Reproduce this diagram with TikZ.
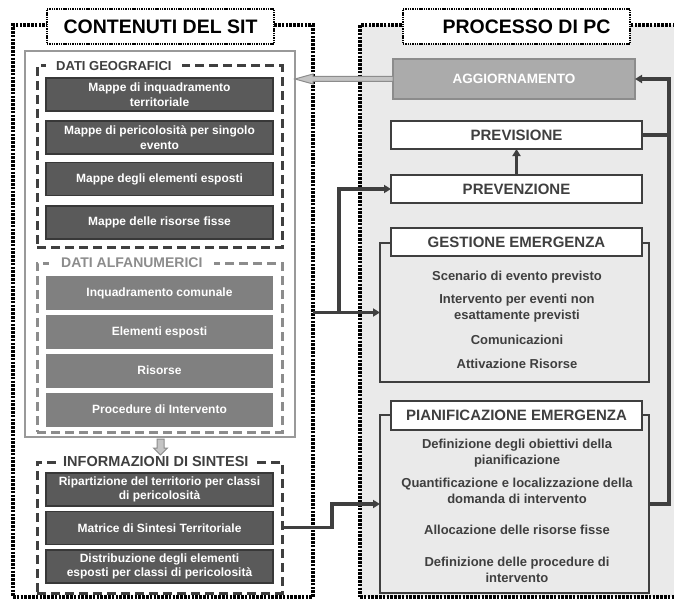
\documentclass[tikz,border=0pt]{standalone}
\usepackage{fontspec}
\setmainfont{Liberation Sans}
\usetikzlibrary{arrows.meta}
\definecolor{inkdark}{HTML}{3F3F3F}
\definecolor{boxdark}{HTML}{5A5A5A}
\definecolor{boxline}{HTML}{383838}
\definecolor{boxmid}{HTML}{808080}
\definecolor{framegray}{HTML}{999999}
\definecolor{alfagray}{HTML}{8C8C8C}
\definecolor{panelbg}{HTML}{EAEAEA}
\definecolor{aggfill}{HTML}{ABABAB}
\definecolor{arrowfill}{HTML}{C4C4C4}

\begin{document}
\begin{tikzpicture}[x=1pt,y=-1pt,
  panel/.style={draw=black,line width=3.6pt,dash pattern=on 2.6pt off 1.2pt,outer sep=0pt,inner sep=0pt},
  titlebox/.style={draw=black,fill=white,line width=1.6pt,dash pattern=on 1.4pt off 0.9pt,
    minimum width=227pt,minimum height=35pt,outer sep=0pt,font=\fontsize{19.5}{22}\selectfont\bfseries},
  dashframe/.style={line width=3pt,dash pattern=on 9pt off 5pt,minimum width=245pt,outer sep=0pt,inner sep=0pt},
  grouplabel/.style={anchor=west,fill=white,inner ysep=2pt,font=\fontsize{14}{16}\selectfont\bfseries},
  darkbox/.style={draw=boxline,fill=boxdark,line width=1.5pt,minimum width=227pt,minimum height=33pt,
    outer sep=0pt,inner sep=1pt,align=center,text=white,font=\fontsize{12}{14.5}\selectfont\bfseries},
  midbox/.style={fill=boxmid,minimum width=227pt,minimum height=34pt,outer sep=0pt,
    align=center,text=white,font=\fontsize{12}{14.5}\selectfont\bfseries},
  stagebox/.style={draw=inkdark,fill=white,line width=2.2pt,minimum width=251pt,minimum height=28pt,
    outer sep=0pt,text=inkdark,font=\fontsize{15}{17}\selectfont\bfseries},
  bracket/.style={draw=inkdark,line width=1.8pt,minimum width=269pt,outer sep=0pt},
  item/.style={align=center,text=inkdark,font=\fontsize{13}{16}\selectfont\bfseries},
  link/.style={draw=inkdark,line width=3.2pt,-{Triangle[length=7pt,width=8pt]}},
  blockarrow/.style={draw=alfagray,fill=arrowfill,line width=1pt,line join=miter}
]
\useasboundingbox (0,0) rectangle (674,599);
% pannelli esterni
\node[panel,minimum width=320pt,minimum height=572pt,fill=panelbg] (pcpanel) at (520,311) {};
\node[panel,minimum width=300pt,minimum height=572pt] (sitpanel) at (163,311) {};
\node[titlebox] (sittitle) at (160.5,26.5) {CONTENUTI DEL SIT};
\node[titlebox] (pctitle) at (516.5,26.5) {\hspace*{20pt}PROCESSO DI PC};

% contenuti del SIT
\node[draw=framegray,line width=2pt,minimum width=270pt,minimum height=386pt,outer sep=0pt] (sitframe) at (160,244) {};
\node[dashframe,draw=inkdark,minimum height=181pt] (geo) at (159.5,156.5) {};
\node[dashframe,draw=alfagray,minimum height=169pt] (alfa) at (159.5,347.5) {};
\node[dashframe,draw=inkdark,minimum height=131pt] (sintesi) at (159.5,527.5) {};
\node[grouplabel,text=inkdark,inner xsep=10pt,font=\fontsize{13}{15}\selectfont\bfseries] (geolab) at (46,66) {DATI GEOGRAFICI};
\node[grouplabel,text=alfagray,inner xsep=12pt] (alfalab) at (49,263) {DATI ALFANUMERICI};
\node[grouplabel,text=inkdark,inner xsep=7pt,font=\fontsize{14.5}{16}\selectfont\bfseries] (sintlab) at (56,462) {INFORMAZIONI DI SINTESI};

\foreach \y/\txt [count=\i] in {94.5/{Mappe di inquadramento\\territoriale},
    137.5/{Mappe di pericolosità per singolo\\evento},
    179/{Mappe degli elementi esposti},
    222.5/{Mappe delle risorse fisse}}
  \node[darkbox] (geo\i) at (159.5,\y) {\txt};
\foreach \y/\txt [count=\i] in {293/{Inquadramento comunale},
    332/{Elementi esposti},
    370.5/{Risorse},
    409.5/{Procedure di Intervento}}
  \node[midbox] (alfa\i) at (159.5,\y) {\txt};
\foreach \y/\txt [count=\i] in {489.5/{Ripartizione del territorio per classi\\di pericolosità},
    528/{Matrice di Sintesi Territoriale},
    566.5/{Distribuzione degli elementi\\esposti per classi di pericolosità}}
  \node[darkbox] (sint\i) at (159.5,\y) {\txt};

% processo di PC
\node[draw=alfagray,fill=aggfill,line width=2pt,minimum width=242pt,minimum height=40pt,outer sep=0pt,
  text=white,font=\fontsize{13.5}{16}\selectfont\bfseries] (agg) at (514,79) {AGGIORNAMENTO};
\node[stagebox] (previs) at (516.5,135) {PREVISIONE};
\node[stagebox] (prevenz) at (516.5,189) {PREVENZIONE};
\node[bracket,minimum height=139pt] (gestfr) at (514.5,312.5) {};
\node[stagebox] (gest) at (516.5,242) {GESTIONE EMERGENZA};
\node[bracket,minimum height=178pt] (pianfr) at (514.5,504) {};
\node[stagebox,minimum height=29pt] (pian) at (516.5,415.5) {PIANIFICAZIONE EMERGENZA};

\foreach \y/\txt [count=\i] in {277/{Scenario di evento previsto},
    308.5/{Intervento per eventi non\\esattamente previsti},
    340/{Comunicazioni},
    364/{Attivazione Risorse}}
  \node[item] (gest\i) at (517,\y) {\txt};
\foreach \y/\txt [count=\i] in {453/{Definizione degli obiettivi della\\pianificazione},
    491/{Quantificazione e localizzazione della\\domanda di intervento},
    530/{Allocazione delle risorse fisse},
    569.5/{Definizione delle procedure di\\intervento}}
  \node[item] (pian\i) at (517,\y) {\txt};

% frecce grigie
\draw[blockarrow] (agg.west) ++(0,-2.5) -- (313,76.5) -- (313,74) -- (sitframe.east |- agg.west)
  -- (313,84) -- (313,81.5) -- ([yshift=-2.5pt]agg.west) -- cycle;
\draw[blockarrow] (157,439) -- (164,439) -- (164,448) -- (167.5,448) -- (160.5,455) -- (153.5,448) -- (157,448) -- cycle;

% collegamenti
\coordinate (lbus) at (339,312);
\coordinate (rbus) at (669,504);
\draw[link] (sitpanel.east |- gestfr.west) -- (gestfr.west);
\draw[link] (lbus) |- (prevenz.west);
\draw[link] (sintesi.east) -- ++(50,0) |- (pianfr.west);
\draw[link,line width=2.4pt] (prevenz.north) -- (previs.south);
\draw[link] (pianfr.east) -- (rbus) |- (agg.east);
\draw[link,-] (previs.east) -- (previs.east -| rbus);
\end{tikzpicture}
\end{document}
